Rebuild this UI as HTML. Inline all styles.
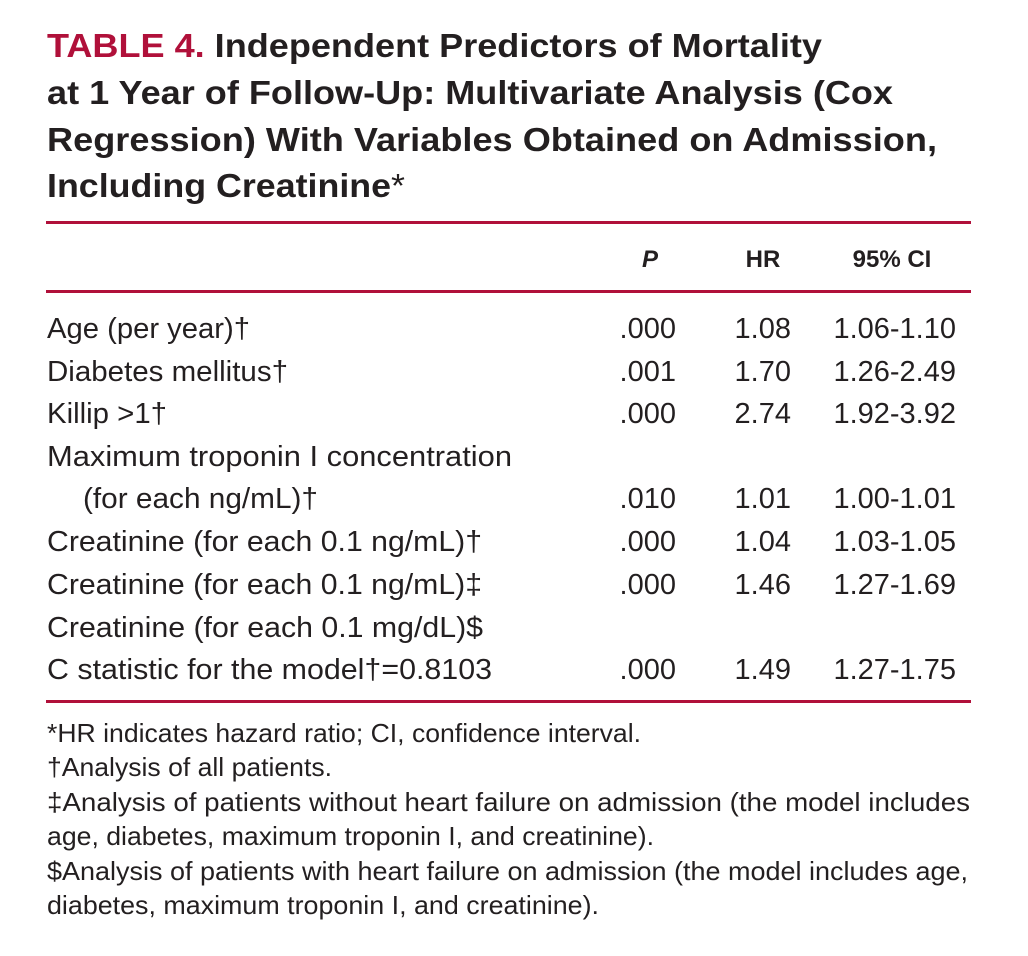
<!DOCTYPE html>
<html><head><meta charset="utf-8"><style>
html,body{margin:0;padding:0;background:#fff;}
svg{display:block;}
text{font-family:"Liberation Sans Narrow","Liberation Sans",sans-serif;fill:#231f20;}
.t{font-size:33px;font-weight:bold;}
.r{font-size:29px;}
.h{font-size:24px;font-weight:bold;}
.f{font-size:26px;}
</style></head><body>
<svg width="1028" height="956" viewBox="0 0 1028 956">
<g>
<text class="t" x="47" y="57" textLength="775" lengthAdjust="spacingAndGlyphs"><tspan fill="#b0103a" style="fill:#b0103a">TABLE 4.</tspan> Independent Predictors of Mortality</text>
<text class="t" x="47" y="104" textLength="846" lengthAdjust="spacingAndGlyphs">at 1 Year of Follow-Up: Multivariate Analysis (Cox</text>
<text class="t" x="47" y="151" textLength="890" lengthAdjust="spacingAndGlyphs">Regression) With Variables Obtained on Admission,</text>
<text class="t" x="47" y="197" textLength="358" lengthAdjust="spacingAndGlyphs">Including Creatinine<tspan style="font-weight:normal">*</tspan></text>
</g>
<rect x="46" y="221" width="925" height="3" fill="#b0103a"/>
<g>
<text class="h" x="650" y="267" text-anchor="middle" font-style="italic">P</text>
<text class="h" x="763" y="267" text-anchor="middle">HR</text>
<text class="h" x="892" y="267" text-anchor="middle">95% CI</text>
</g>
<rect x="46" y="290" width="925" height="3" fill="#b0103a"/>
<g>
<text class="r" x="47" y="338" textLength="203" lengthAdjust="spacingAndGlyphs">Age (per year)†</text>
<text class="r" x="676" y="338" text-anchor="end">.000</text><text class="r" x="791" y="338" text-anchor="end">1.08</text><text class="r" x="956" y="338" text-anchor="end">1.06-1.10</text>
<text class="r" x="47" y="381" textLength="241" lengthAdjust="spacingAndGlyphs">Diabetes mellitus†</text>
<text class="r" x="676" y="381" text-anchor="end">.001</text><text class="r" x="791" y="381" text-anchor="end">1.70</text><text class="r" x="956" y="381" text-anchor="end">1.26-2.49</text>
<text class="r" x="47" y="423" textLength="120" lengthAdjust="spacingAndGlyphs">Killip &gt;1†</text>
<text class="r" x="676" y="423" text-anchor="end">.000</text><text class="r" x="791" y="423" text-anchor="end">2.74</text><text class="r" x="956" y="423" text-anchor="end">1.92-3.92</text>
<text class="r" x="47" y="466" textLength="465" lengthAdjust="spacingAndGlyphs">Maximum troponin I concentration</text>
<text class="r" x="83" y="508" textLength="235" lengthAdjust="spacingAndGlyphs">(for each ng/mL)†</text>
<text class="r" x="676" y="508" text-anchor="end">.010</text><text class="r" x="791" y="508" text-anchor="end">1.01</text><text class="r" x="956" y="508" text-anchor="end">1.00-1.01</text>
<text class="r" x="47" y="551" textLength="435" lengthAdjust="spacingAndGlyphs">Creatinine (for each 0.1 ng/mL)†</text>
<text class="r" x="676" y="551" text-anchor="end">.000</text><text class="r" x="791" y="551" text-anchor="end">1.04</text><text class="r" x="956" y="551" text-anchor="end">1.03-1.05</text>
<text class="r" x="47" y="594" textLength="435" lengthAdjust="spacingAndGlyphs">Creatinine (for each 0.1 ng/mL)‡</text>
<text class="r" x="676" y="594" text-anchor="end">.000</text><text class="r" x="791" y="594" text-anchor="end">1.46</text><text class="r" x="956" y="594" text-anchor="end">1.27-1.69</text>
<text class="r" x="47" y="637" textLength="436" lengthAdjust="spacingAndGlyphs">Creatinine (for each 0.1 mg/dL)$</text>
<text class="r" x="47" y="679" textLength="445" lengthAdjust="spacingAndGlyphs">C statistic for the model†=0.8103</text>
<text class="r" x="676" y="679" text-anchor="end">.000</text><text class="r" x="791" y="679" text-anchor="end">1.49</text><text class="r" x="956" y="679" text-anchor="end">1.27-1.75</text>
</g>
<rect x="46" y="700" width="925" height="3" fill="#b0103a"/>
<g>
<text class="f" x="47" y="742" textLength="594" lengthAdjust="spacingAndGlyphs">*HR indicates hazard ratio; CI, confidence interval.</text>
<text class="f" x="47" y="776" textLength="285" lengthAdjust="spacingAndGlyphs">†Analysis of all patients.</text>
<text class="f" x="47" y="811" textLength="923" lengthAdjust="spacingAndGlyphs">‡Analysis of patients without heart failure on admission (the model includes</text>
<text class="f" x="47" y="845" textLength="607" lengthAdjust="spacingAndGlyphs">age, diabetes, maximum troponin I, and creatinine).</text>
<text class="f" x="47" y="880" textLength="921" lengthAdjust="spacingAndGlyphs">$Analysis of patients with heart failure on admission (the model includes age,</text>
<text class="f" x="47" y="914" textLength="552" lengthAdjust="spacingAndGlyphs">diabetes, maximum troponin I, and creatinine).</text>
</g>
</svg>
</body></html>
